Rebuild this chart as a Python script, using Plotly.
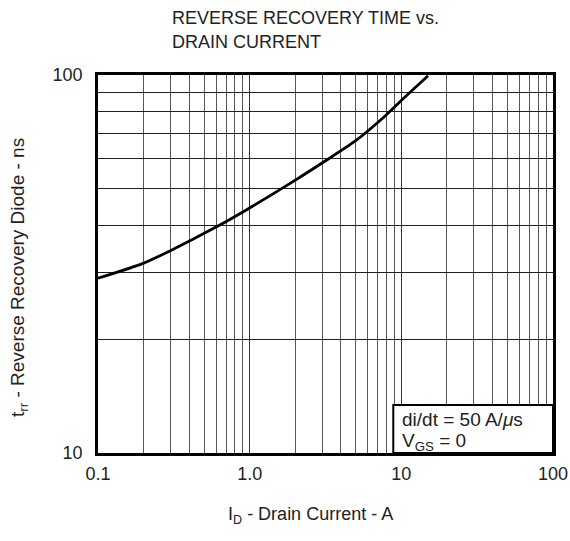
import plotly.graph_objects as go

# Data
drain_current = [0.1, 0.2, 0.3, 0.6, 1.0, 2.0, 3.0, 5.0, 7.3, 9.8, 15.0]
trr_ns = [29.0, 31.8, 34.3, 39.6, 44.5, 52.7, 58.5, 67.0, 76.0, 85.0, 99.5]

x_tickvals = [0.1, 1, 10, 100]
x_ticktext = ["0.1", "1.0", "10", "100"]
y_tickvals = [10, 100]
y_ticktext = ["10", "100"]
x_minor = [m * d for d in (0.1, 1, 10) for m in range(2, 10)]
y_minor = [m * 10 for m in range(2, 10)]

FONT = "Liberation Sans, Arial, Helvetica, sans-serif"
TXT = "#222222"

# figure fills the whole window (body margin removed below)
W, H = 570, 541
L, R, T, B = 98, 553, 75, 453


def px(xs):
    return (xs - L) / (R - L)


def py(ys):
    return (B - ys) / (B - T)


fig = go.Figure()
fig.add_trace(go.Scatter(x=drain_current, y=trr_ns, mode="lines",
                         line=dict(color="black", width=2.8, shape="spline",
                                   smoothing=0.8),
                         showlegend=False, hoverinfo="skip"))

axis_common = dict(type="log", showline=True, linecolor="black", linewidth=2.5,
                   mirror=True, showgrid=True, gridcolor="#303030",
                   gridwidth=1, zeroline=False, automargin=False,
                   ticklabeloverflow="allow",
                   tickfont=dict(family=FONT, size=18, color=TXT))

fig.update_xaxes(range=[-1, 2], tickvals=x_tickvals, ticktext=x_ticktext,
                 ticks="outside", ticklen=3, tickcolor="rgba(0,0,0,0)",
                 minor=dict(tickvals=x_minor, showgrid=True, gridcolor="#555555",
                            gridwidth=1, ticks=""),
                 **axis_common)
fig.update_yaxes(range=[1, 2], tickvals=y_tickvals, ticktext=y_ticktext,
                 ticks="outside", ticklen=9, tickcolor="rgba(0,0,0,0)",
                 minor=dict(tickvals=y_minor, showgrid=True, gridcolor="#202020",
                            gridwidth=1, ticks=""),
                 **axis_common)

# Axis titles
fig.add_annotation(xref="paper", yref="paper", x=px(310), y=py(515),
                   xanchor="center", yanchor="middle", showarrow=False,
                   text="I<sub>D</sub> - Drain Current - A",
                   font=dict(family=FONT, size=18, color=TXT))
fig.add_annotation(xref="paper", yref="paper", x=px(19), y=py(278),
                   xanchor="center", yanchor="middle", showarrow=False, textangle=-90,
                   text="t<sub>rr</sub> - Reverse Recovery Diode - ns",
                   font=dict(family=FONT, size=19, color=TXT))

# Condition box
fig.add_shape(type="rect", xref="x", yref="y", x0=8.85, x1=100, y0=10, y1=13.4,
              line=dict(color="black", width=2), fillcolor="white", layer="above")
fig.add_annotation(xref="paper", yref="paper", x=px(400), y=py(419), xanchor="left",
                   yanchor="middle", text="di/dt = 50 A/<i>μ</i>s", showarrow=False,
                   font=dict(family=FONT, size=19, color=TXT))
fig.add_annotation(xref="paper", yref="paper", x=px(400), y=py(442), xanchor="left",
                   yanchor="middle", text="V<sub>GS</sub> = 0", showarrow=False,
                   font=dict(family=FONT, size=19, color=TXT))

# Title (two lines)
fig.add_annotation(xref="paper", yref="paper", x=px(170), y=py(18), xanchor="left",
                   yanchor="middle", showarrow=False,
                   text="REVERSE RECOVERY TIME vs.",
                   font=dict(family=FONT, size=18, color=TXT))
fig.add_annotation(xref="paper", yref="paper", x=px(170), y=py(42), xanchor="left",
                   yanchor="middle", showarrow=False,
                   text="DRAIN CURRENT",
                   font=dict(family=FONT, size=18, color=TXT))

fig.update_layout(width=W, height=H, paper_bgcolor="white", plot_bgcolor="white",
                  margin=dict(l=L, r=W - R, t=T, b=H - B), showlegend=False)

fig.write_html("out.html", config={"displayModeBar": False},
               post_script="document.body.style.margin='0';"
                           "document.body.style.overflow='hidden';")
